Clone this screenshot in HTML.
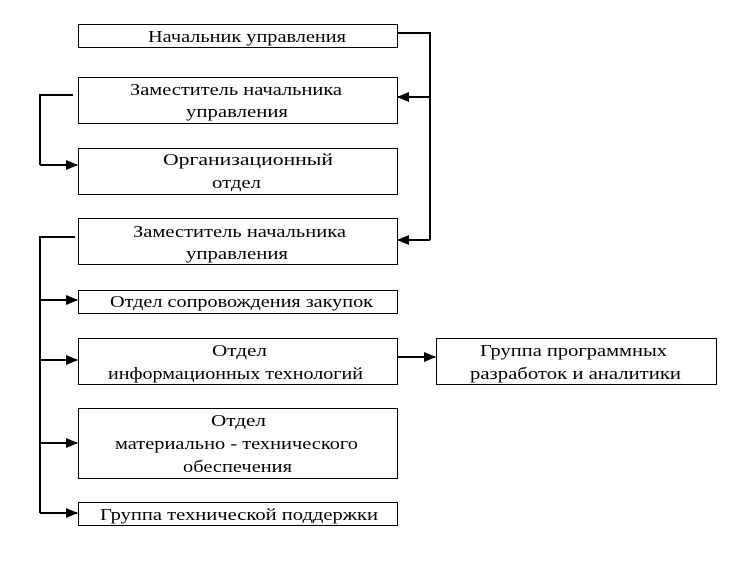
<!DOCTYPE html>
<html><head><meta charset="utf-8"><style>
body{margin:0;background:#fff;}
text{font-family:"Liberation Serif","DejaVu Serif",serif;font-size:17px;fill:#000;}
</style></head><body>
<svg width="744" height="570" xmlns="http://www.w3.org/2000/svg">
<defs><marker id="a" markerWidth="12" markerHeight="12" refX="11" refY="6" orient="auto" markerUnits="userSpaceOnUse"><path d="M0,1 L12,6 L0,11 z" fill="#000"/></marker></defs>
<g fill="none" stroke="#000" stroke-width="1">
<rect x="78.5" y="24.5" width="319" height="23"/>
<rect x="78.5" y="77.5" width="319" height="46"/>
<rect x="78.5" y="148.5" width="319" height="46"/>
<rect x="78.5" y="218.5" width="319" height="46"/>
<rect x="78.5" y="290.5" width="319" height="23"/>
<rect x="78.5" y="338.5" width="319" height="46"/>
<rect x="78.5" y="408.5" width="319" height="70"/>
<rect x="78.5" y="502.5" width="319" height="23"/>
<rect x="436.5" y="338.5" width="280" height="46"/>
</g>
<g fill="none" stroke="#000" stroke-width="2">
<polyline points="397,33 430,33 430,240"/>
<line x1="430" y1="97" x2="398" y2="97" marker-end="url(#a)"/>
<line x1="430" y1="240" x2="398" y2="240" marker-end="url(#a)"/>
<polyline points="73,95 40,95 40,165"/>
<line x1="40" y1="165" x2="77" y2="165" marker-end="url(#a)"/>
<polyline points="75,237 40,237 40,513"/>
<line x1="40" y1="300" x2="77" y2="300" marker-end="url(#a)"/>
<line x1="40" y1="360" x2="77" y2="360" marker-end="url(#a)"/>
<line x1="40" y1="443" x2="77" y2="443" marker-end="url(#a)"/>
<line x1="40" y1="513" x2="77" y2="513" marker-end="url(#a)"/>
<line x1="398" y1="357" x2="435" y2="357" marker-end="url(#a)"/>
</g>
<text x="148" y="42" textLength="198" lengthAdjust="spacingAndGlyphs">Начальник управления</text>
<text x="130" y="95" textLength="212" lengthAdjust="spacingAndGlyphs">Заместитель начальника</text>
<text x="186" y="117" textLength="102" lengthAdjust="spacingAndGlyphs">управления</text>
<text x="163" y="165" textLength="170" lengthAdjust="spacingAndGlyphs">Организационный</text>
<text x="212" y="188" textLength="49" lengthAdjust="spacingAndGlyphs">отдел</text>
<text x="133" y="237" textLength="213" lengthAdjust="spacingAndGlyphs">Заместитель начальника</text>
<text x="186" y="259" textLength="102" lengthAdjust="spacingAndGlyphs">управления</text>
<text x="110" y="307" textLength="263" lengthAdjust="spacingAndGlyphs">Отдел сопровождения закупок</text>
<text x="212" y="356" textLength="55" lengthAdjust="spacingAndGlyphs">Отдел</text>
<text x="108" y="379" textLength="255" lengthAdjust="spacingAndGlyphs">информационных технологий</text>
<text x="211" y="426" textLength="55" lengthAdjust="spacingAndGlyphs">Отдел</text>
<text x="115" y="449" textLength="243" lengthAdjust="spacingAndGlyphs">материально - технического</text>
<text x="183" y="472" textLength="109" lengthAdjust="spacingAndGlyphs">обеспечения</text>
<text x="100" y="520" textLength="278" lengthAdjust="spacingAndGlyphs">Группа технической поддержки</text>
<text x="480" y="356" textLength="187" lengthAdjust="spacingAndGlyphs">Группа программных</text>
<text x="470" y="379" textLength="211" lengthAdjust="spacingAndGlyphs">разработок и аналитики</text>
</svg>
</body></html>
